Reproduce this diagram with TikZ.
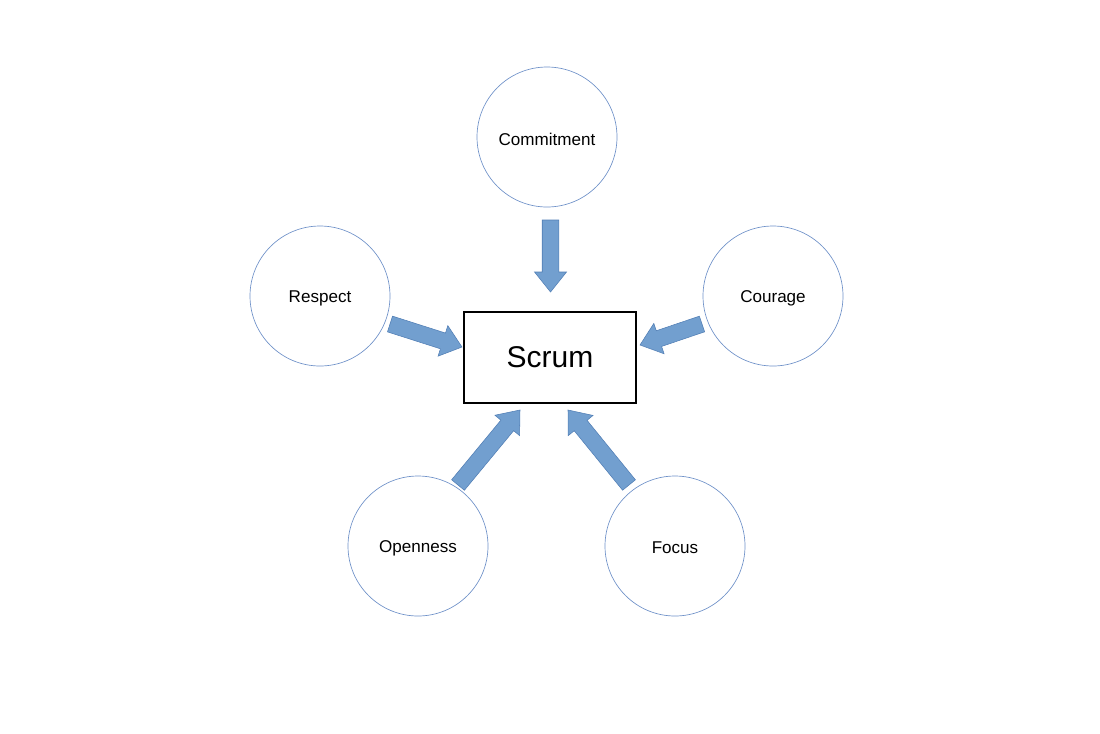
\documentclass[tikz,border=0pt]{standalone}
\usepackage{fontspec}
\setmainfont{Liberation Sans}
\usetikzlibrary{calc}
\definecolor{arrfill}{RGB}{114,159,207}
\definecolor{arrline}{RGB}{80,125,180}
\definecolor{circline}{RGB}{110,145,200}
\tikzset{
  value/.style={circle, draw=circline, line width=0.5pt, minimum size=105pt, inner sep=0pt},
  lbl/.style={font=\fontsize{12.8}{15}\selectfont, yshift=-1.5pt},
  core/.style={draw=black, line width=1.5pt, minimum width=129pt, minimum height=68pt,
    font=\fontsize{22.5}{26}\selectfont},
  blockarrow/.style={fill=arrfill, draw=arrline, line width=0.4pt, line join=miter}
}
\newcommand\blockarr[2]{%
  \coordinate (hb) at ($(#2)!15pt!(#1)$);
  \draw[blockarrow] ($(#1)!6.2pt!90:(#2)$) -- ($(hb)!6.2pt!-90:(#1)$) -- ($(hb)!12pt!-90:(#1)$)
    -- (#2) -- ($(hb)!12pt!90:(#1)$) -- ($(hb)!6.2pt!90:(#1)$) -- ($(#1)!6.2pt!-90:(#2)$) -- cycle;
}
\begin{document}
\begin{tikzpicture}[x=0.75pt, y=-0.75pt]
\useasboundingbox (0,0) rectangle (1100,733);
\node[value, label={[lbl]center:Commitment}] (commit) at (547,137) {};
\node[value, label={[lbl]center:Respect}] (respect) at (320,296) {};
\node[value, label={[lbl]center:Courage}] (courage) at (773,296) {};
\node[value, label={[lbl]center:Openness}] (open) at (418,546) {};
\node[value, label={[lbl]center:Focus}] (focus) at (675,546) {};
\node[core] (scrum) at (550,357.5) {Scrum};
% arrow ends
\coordinate (t1) at (550.5,220); \coordinate (p1) at (550.5,292);
\coordinate (t2) at (390,324);   \coordinate (p2) at (462,347);
\coordinate (t3) at (702,324);   \coordinate (p3) at (640,345);
\coordinate (t4) at (458,485);   \coordinate (p4) at (520,410);
\coordinate (t5) at (629,485);   \coordinate (p5) at (568,410);
\blockarr{t1}{p1}
\blockarr{t2}{p2}
\blockarr{t3}{p3}
\blockarr{t4}{p4}
\blockarr{t5}{p5}
\end{tikzpicture}
\end{document}
